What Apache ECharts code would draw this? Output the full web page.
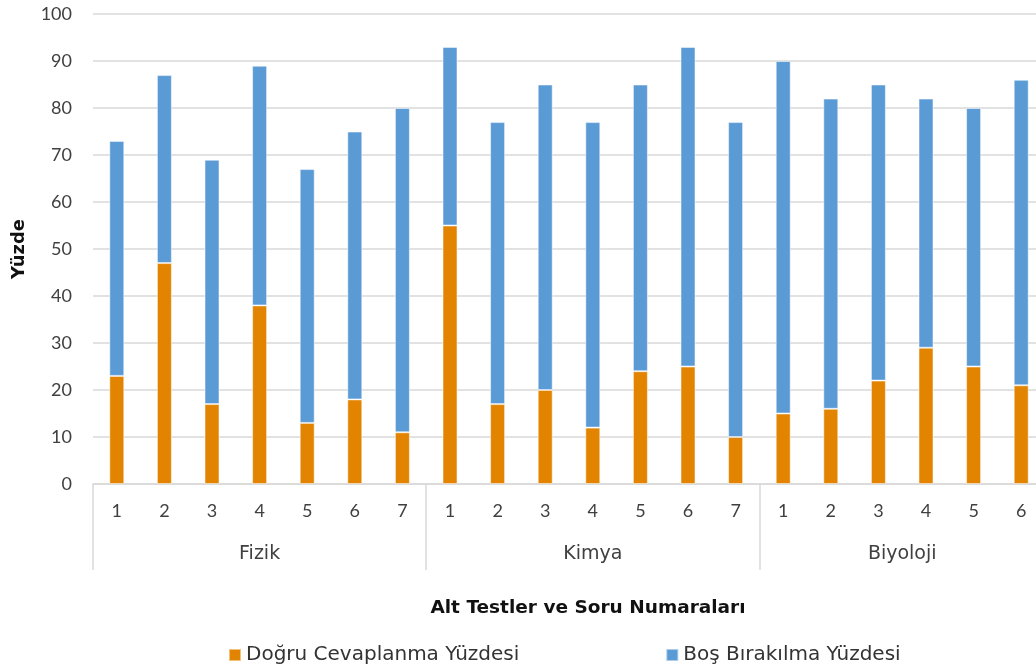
<!DOCTYPE html>
<html>
<head>
<meta charset="utf-8">
<script src="https://cdn.jsdelivr.net/npm/echarts@6/dist/echarts.min.js"></script>
<style>
  html, body { margin: 0; padding: 0; background: #fff; overflow: hidden; }
  #chart { width: 1036px; height: 672px; }
</style>
</head>
<body>
<div id="chart"></div>
<script>
// soru numaralari (alt kategori)
const questions = ['1', '2', '3', '4', '5', '6', '7',
                   '1', '2', '3', '4', '5', '6', '7',
                   '1', '2', '3', '4', '5', '6'];
// alt testler ve kapsadiklari soru araligi
const groups = ['Fizik', 'Kimya', 'Biyoloji'];
const groupBounds = [0, 7, 14, 20];
const groupCenters = [3.5, 10.5, 17];

// yuzde degerleri
const dogru = [23, 47, 17, 38, 13, 18, 11,
               55, 17, 20, 12, 24, 25, 10,
               15, 16, 22, 29, 25, 21];
const bos = [50, 40, 52, 51, 54, 57, 69,
             38, 60, 65, 65, 61, 68, 67,
             75, 66, 63, 53, 55, 65];

const yTicks = { min: 0, max: 100, interval: 10 };

const txt = '#404040';
const gridCol = '#d9d9d9';
const numFont = 'Lato';
const wideFont = 'DejaVu Sans';

const chart = echarts.init(document.getElementById('chart'));

chart.setOption({
    animation: false,
    textStyle: { fontFamily: numFont },
    // grafik sag kenarda kesik: sag tarafi pencerenin disina tasiyoruz
    grid: { left: 93, right: -9, top: 14, bottom: 188, containLabel: false, outerBoundsMode: 'none' },
    title: {
        text: 'Alt Testler ve Soru Numaraları',
        left: 583, top: 594, textAlign: 'center',
        textStyle: { fontFamily: wideFont, fontSize: 18.5, fontWeight: 'bold', color: '#111' }
    },
    legend: {
        top: 645, left: 228, padding: 0,
        icon: 'rect', itemWidth: 12, itemHeight: 12, itemGap: 146,
        textStyle: { fontFamily: wideFont, fontSize: 20, color: '#333' },
        data: ['Doğru Cevaplanma Yüzdesi', 'Boş Bırakılma Yüzdesi']
    },
    xAxis: [
        {
            type: 'category',
            data: questions,
            axisLine: { lineStyle: { color: gridCol, width: 1.5 } },
            axisTick: { show: false },
            axisLabel: { color: txt, fontSize: 18, margin: 18, interval: 0 }
        },
        {
            type: 'value',
            min: 0, max: 20,
            position: 'bottom',
            axisLine: { show: false },
            splitLine: { show: false },
            axisTick: {
                show: true, length: 86, customValues: groupBounds,
                lineStyle: { color: gridCol, width: 1.5 }
            },
            axisLabel: {
                color: txt, fontSize: 19, margin: 61, fontFamily: wideFont,
                customValues: groupCenters,
                formatter: v => groups[groupCenters.indexOf(v)]
            }
        }
    ],
    yAxis: {
        type: 'value',
        min: yTicks.min, max: yTicks.max, interval: yTicks.interval,
        name: 'Yüzde',
        nameLocation: 'middle', nameGap: 65, nameRotate: 90,
        nameTextStyle: { fontFamily: wideFont, fontSize: 18, fontWeight: 'bold', color: '#111' },
        axisLine: { show: false },
        axisTick: { show: false },
        axisLabel: { color: txt, fontSize: 18, margin: 21 },
        splitLine: { lineStyle: { color: gridCol, width: 1.5 } }
    },
    series: [
        {
            name: 'Doğru Cevaplanma Yüzdesi',
            type: 'bar', stack: 'toplam',
            barWidth: 15,
            data: dogru,
            itemStyle: { color: '#E38400', borderColor: 'rgba(255,255,255,0.5)', borderWidth: 1 }
        },
        {
            name: 'Boş Bırakılma Yüzdesi',
            type: 'bar', stack: 'toplam',
            barWidth: 15,
            data: bos,
            itemStyle: { color: '#5B9BD5', borderColor: 'rgba(255,255,255,0.5)', borderWidth: 1 }
        }
    ]
});
</script>
</body>
</html>
